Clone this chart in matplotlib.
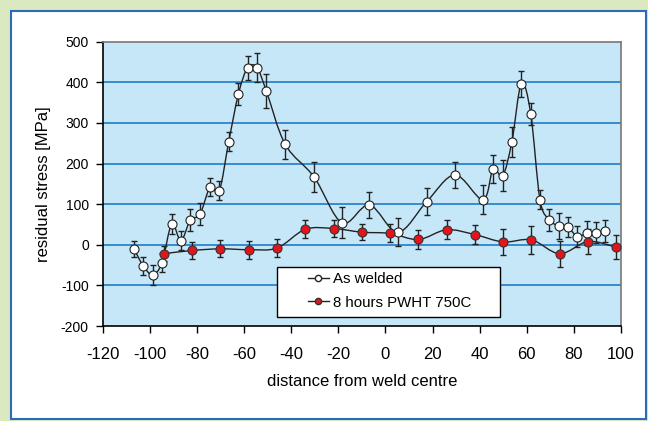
import numpy as np
import matplotlib
matplotlib.use("Agg")
import matplotlib.pyplot as plt
from matplotlib.path import Path
from matplotlib.patches import PathPatch, Rectangle
from matplotlib.lines import Line2D

plt.rcParams["font.family"] = ["Liberation Sans", "DejaVu Sans"]
plt.rcParams["axes.unicode_minus"] = False

# As welded
aw_x = [-106.6, -102.8, -98.8, -94.8, -90.7, -86.8, -82.8, -78.7, -74.4, -70.5,
        -66.5, -62.4, -58.5, -54.5, -50.5, -42.5, -30.3, -18.4, -6.8, 5.3,
        17.5, 29.5, 41.4, 45.7, 49.8, 53.7, 57.7, 61.7, 65.6, 69.6,
        73.6, 77.5, 81.5, 85.4, 89.4, 93.3]
aw_y = [-11, -52, -74, -44, 51, 10, 61, 75, 142, 133,
        254, 371, 436, 436, 378, 247, 167, 54, 98, 31,
        106, 172, 111, 187, 170, 254, 397, 322, 111, 62,
        46, 43, 20, 29, 30, 34]
aw_err = [20, 22, 24, 24, 25, 24, 28, 27, 22, 23,
          24, 27, 30, 35, 42, 35, 36, 38, 31, 34,
          33, 33, 36, 35, 38, 37, 32, 28, 24, 27,
          32, 25, 25, 29, 25, 28]

# 8 hours PWHT 750C
pw_x = [-94, -82, -70, -58, -46, -34, -22, -10, 2, 14, 26, 38, 50, 62, 74, 86, 98]
pw_y = [-22, -14, -10, -12, -8, 38, 40, 31, 28, 13, 37, 25, 7, 12, -22, 8, -6]
pw_err = [18, 20, 21, 22, 22, 22, 20, 20, 22, 23, 23, 23, 31, 34, 32, 30, 30]

x_ticks = list(range(-120, 101, 20))
y_ticks = list(range(-200, 501, 100))


def smooth_path(xs, ys):
    """Catmull-Rom style smoothed line as cubic Bezier segments (like Excel)."""
    p = np.column_stack([xs, ys]).astype(float)
    verts = [p[0]]
    codes = [Path.MOVETO]
    n = len(p)
    for i in range(n - 1):
        p0 = p[i - 1] if i > 0 else p[i]
        p3 = p[i + 2] if i + 2 < n else p[i + 1]
        c1 = p[i] + (p[i + 1] - p0) / 6.0
        c2 = p[i + 1] - (p3 - p[i]) / 6.0
        verts += [c1, c2, p[i + 1]]
        codes += [Path.CURVE4] * 3
    return Path(verts, codes)


fig = plt.figure(figsize=(6.48, 4.21), dpi=100)
fig.patch.set_facecolor("#dbe9c1")
fig.patches.append(Rectangle((11 / 648, 2 / 421), 635 / 648, 408 / 421,
                             transform=fig.transFigure, facecolor="white",
                             edgecolor="#2a6cb8", linewidth=1.5, zorder=-5))

ax = fig.add_axes([102.7 / 648, 1 - 326 / 421, 518.3 / 648, 284.3 / 421])
ax.set_zorder(2)
ax.set_facecolor("#c6e7f8")

for yv in y_ticks[1:-1]:
    ax.axhline(yv, color="#1f7cc6", linewidth=1.2, zorder=1)

ax.errorbar(aw_x, aw_y, yerr=aw_err, fmt="none", ecolor="#222222",
            elinewidth=1.0, capsize=2.5, capthick=1.0, zorder=2)
ax.errorbar(pw_x, pw_y, yerr=pw_err, fmt="none", ecolor="#222222",
            elinewidth=1.0, capsize=2.5, capthick=1.0, zorder=2)

ax.add_patch(PathPatch(smooth_path(aw_x, aw_y), facecolor="none",
                       edgecolor="#222222", linewidth=1.0, zorder=3))
ax.add_patch(PathPatch(smooth_path(pw_x, pw_y), facecolor="none",
                       edgecolor="#222222", linewidth=1.0, zorder=3))

ax.plot(aw_x, aw_y, "o", markersize=6.5, markerfacecolor="white",
        markeredgecolor="#222222", markeredgewidth=0.8, zorder=4)
ax.plot(pw_x, pw_y, "o", markersize=6.5, markerfacecolor="#e3141b",
        markeredgecolor="#333333", markeredgewidth=0.8, zorder=4)

ax.set_xlim(-120, 100)
ax.set_ylim(-200, 500)
ax.set_xticks(x_ticks)
ax.set_yticks(y_ticks)
ax.tick_params(axis="both", direction="out", length=5, width=1, colors="black")
ax.tick_params(axis="x", pad=10, labelsize=12)
ax.tick_params(axis="y", pad=5, labelsize=10)

for side in ["left", "bottom"]:
    ax.spines[side].set_color("black")
    ax.spines[side].set_linewidth(1.2)
for side in ["top", "right"]:
    ax.spines[side].set_color("#777777")
    ax.spines[side].set_linewidth(1.2)

ax.set_xlabel("distance from weld centre", fontsize=12, labelpad=9)
ax.set_ylabel("residual stress [MPa]", fontsize=12, labelpad=7)

# legend: frame drawn separately so the entries sit inset like the original
ax.add_patch(Rectangle((0.336, 0.0317), 0.4297, 0.1759, transform=ax.transAxes,
                       facecolor="white", edgecolor="black", linewidth=1.0,
                       zorder=5))
handles = [
    Line2D([], [], color="#222222", linewidth=1.0, marker="o", markersize=4.5,
           markerfacecolor="white", markeredgecolor="#222222"),
    Line2D([], [], color="#222222", linewidth=1.0, marker="o", markersize=4.5,
           markerfacecolor="#e3141b", markeredgecolor="#333333"),
]
leg = ax.legend(handles, ["As welded", "8 hours PWHT 750C"],
                loc="upper left", bbox_to_anchor=(0.396, 0.19),
                borderaxespad=0, borderpad=0, frameon=False, fontsize=10.8,
                handlelength=1.4, handletextpad=0.25, labelspacing=0.65)
leg.set_zorder(6)

fig.savefig("out.png", dpi=100, facecolor=fig.get_facecolor())
